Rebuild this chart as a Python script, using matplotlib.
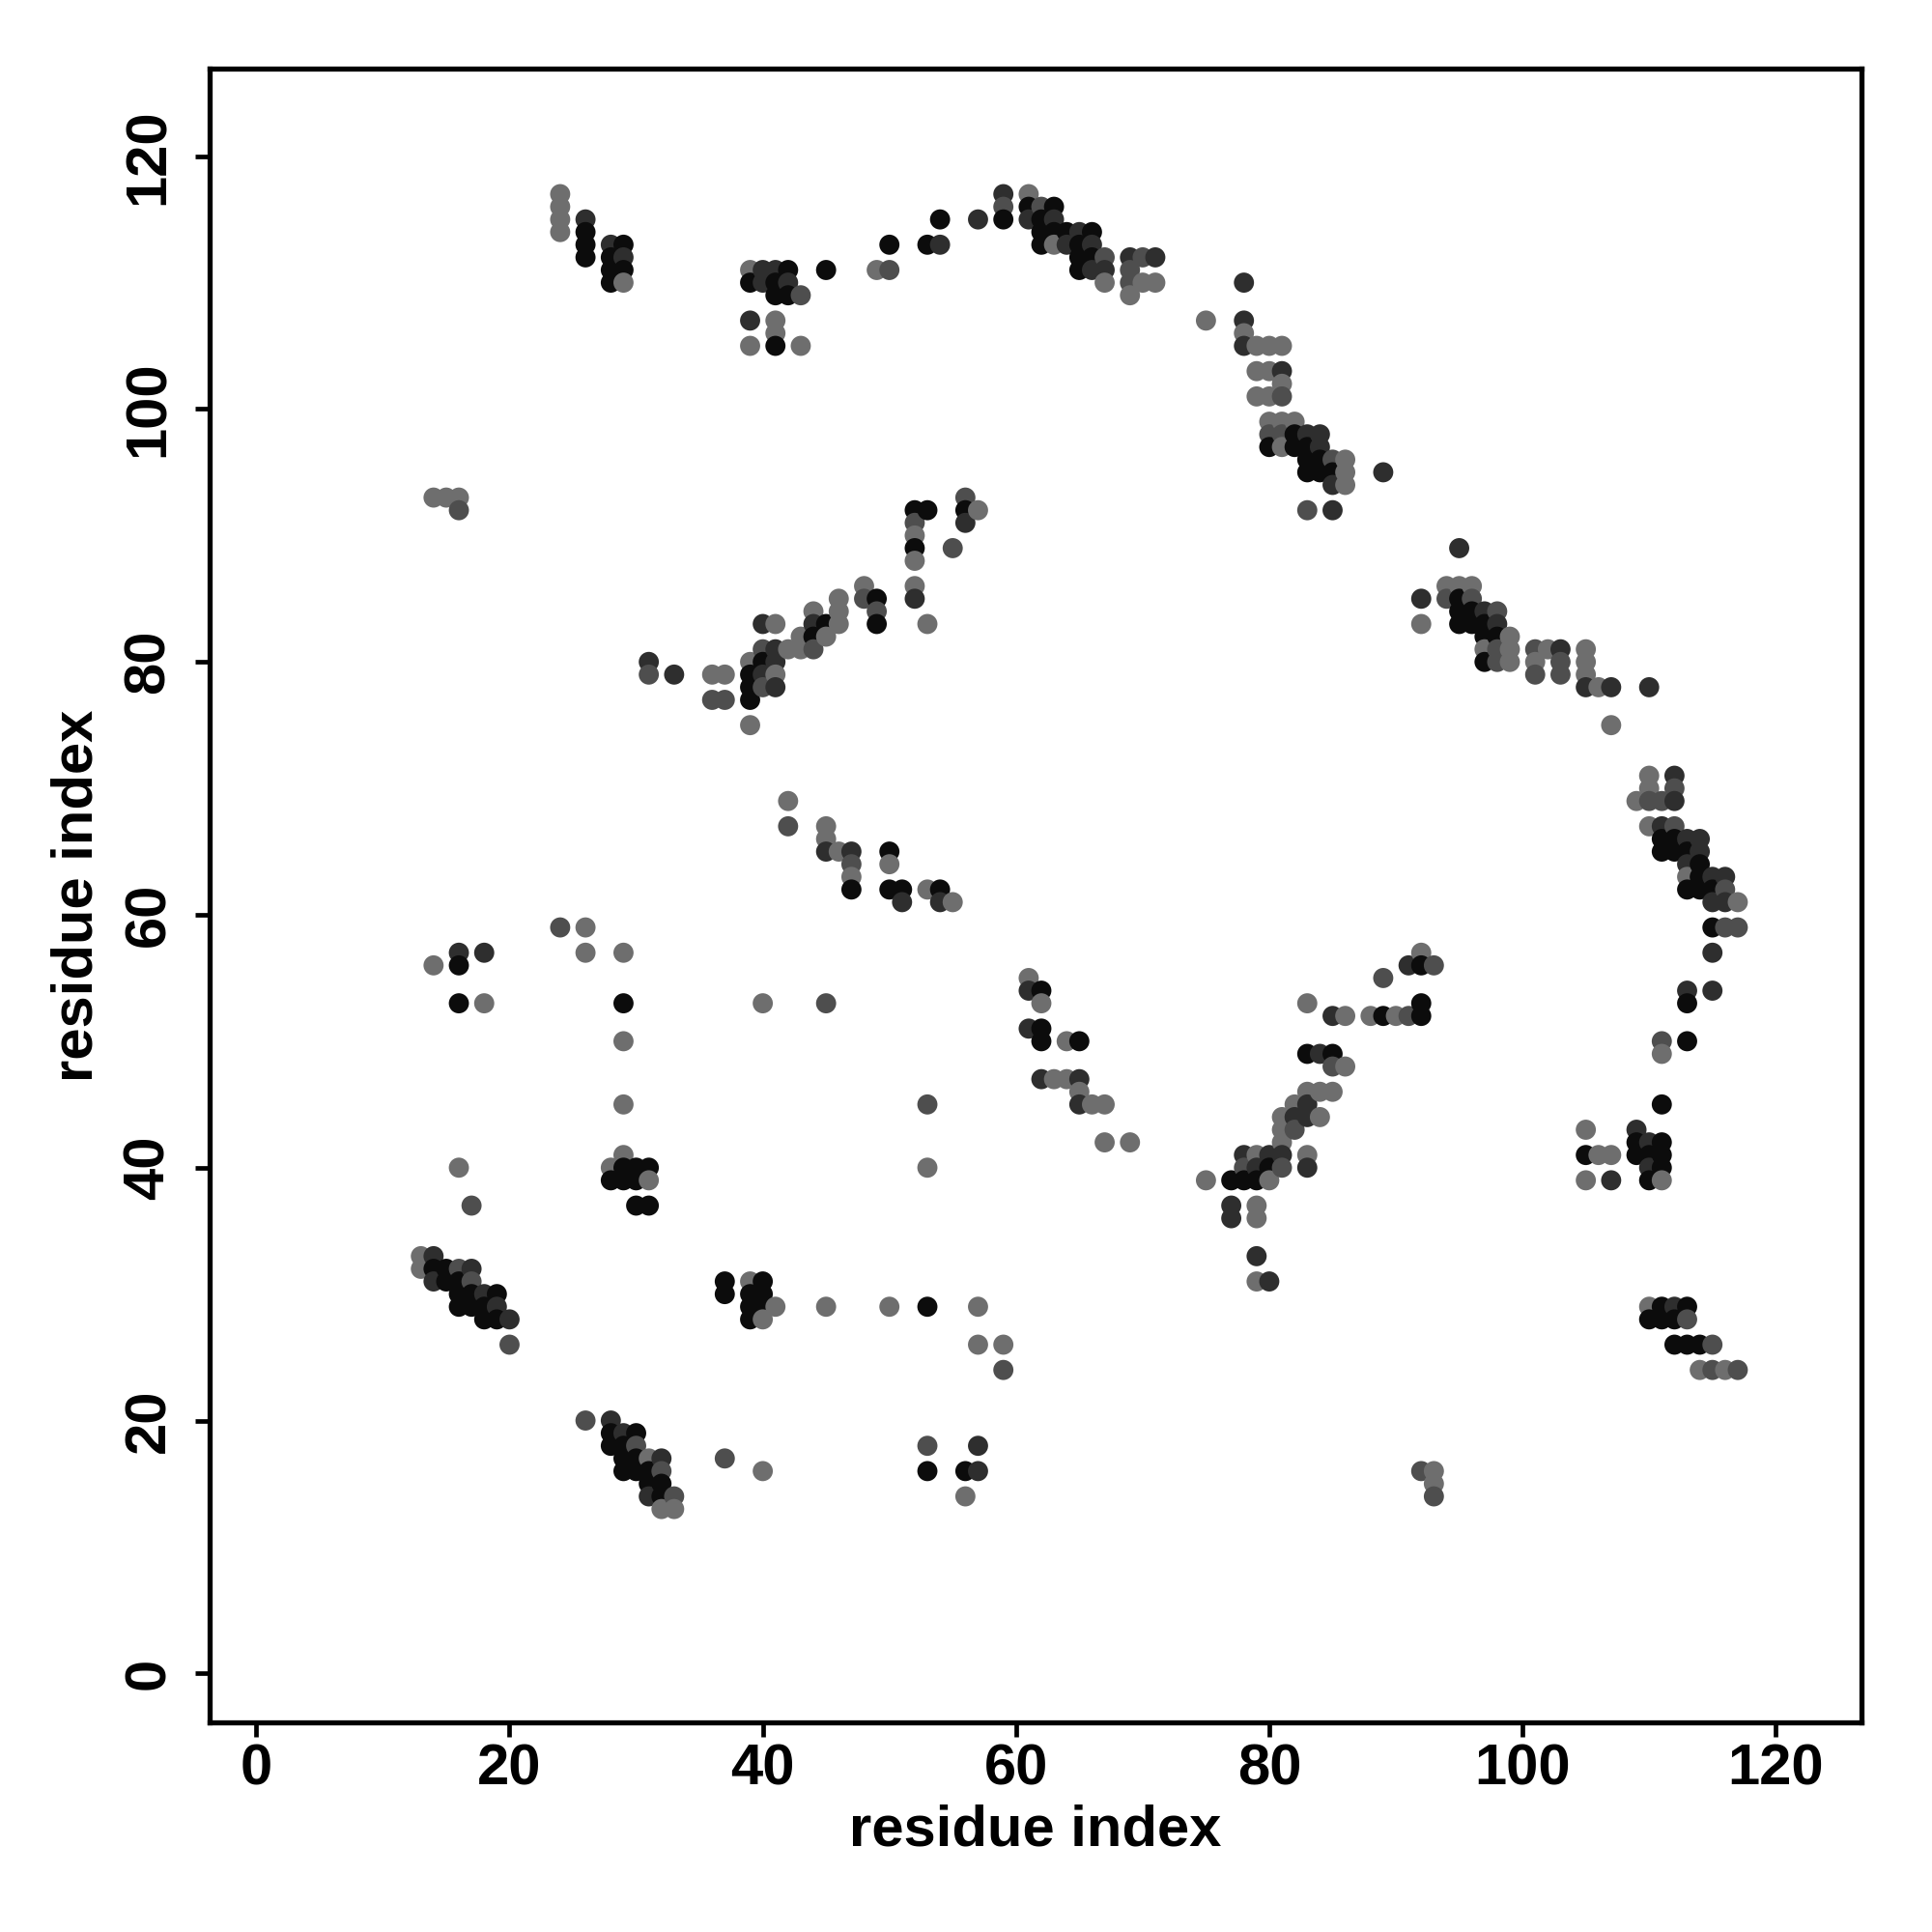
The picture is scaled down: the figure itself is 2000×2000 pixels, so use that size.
import matplotlib
matplotlib.use("Agg")
import matplotlib.pyplot as plt

# Contact map: for every residue index on x, the partner residues (y) and a shade level
# (0 = black, 1 = dark, 2 = dark grey, 3 = grey)
cols = [13, 14, 15, 16, 17, 18, 19, 20, 24, 26, 28, 29, 30, 31, 32, 33, 36, 37, 39, 40,
        41, 42, 43, 44, 45, 46, 47, 48, 49, 50, 51, 52, 53, 54, 55, 56, 57, 59, 61, 62,
        63, 64, 65, 66, 67, 69, 70, 71, 75, 77, 78, 79, 80, 81, 82, 83, 84, 85, 86, 88,
        89, 90, 91, 92, 93, 94, 95, 96, 97, 98, 99, 101, 102, 103, 105, 106, 107, 109, 110, 111,
        112, 113, 114, 115, 116, 117]

rows_by_col = [
    [33, 32],
    [93, 56, 33, 32, 31],
    [93, 32, 31],
    [93, 92, 57, 56, 53, 40, 32, 31, 30, 29],
    [37, 32, 31, 30, 29],
    [57, 53, 30, 29, 28],
    [30, 29, 28],
    [28, 26],
    [117, 116, 115, 114, 59],
    [115, 114, 113, 112, 59, 57, 20],
    [113, 112, 111, 110, 40, 39, 20, 19, 18],
    [113, 112, 111, 110, 57, 53, 50, 45, 41, 40, 39, 19, 18, 17, 16],
    [40, 39, 37, 19, 18, 17, 16],
    [80, 79, 40, 39, 37, 17, 16, 15, 14],
    [17, 16, 15, 14, 13],
    [79, 14, 13],
    [79, 77],
    [79, 77, 31, 30, 17],
    [111, 110, 107, 105, 80, 79, 78, 77, 75, 31, 30, 29, 28],
    [111, 110, 83, 81, 80, 79, 78, 53, 31, 30, 29, 28, 16],
    [111, 110, 109, 107, 106, 105, 83, 81, 80, 79, 78, 29],
    [111, 110, 109, 81, 69, 67],
    [109, 105, 82, 81],
    [84, 83, 82, 81],
    [111, 83, 82, 67, 66, 65, 53, 29],
    [85, 84, 83, 65],
    [65, 64, 63, 62],
    [86, 85],
    [111, 85, 84, 83],
    [113, 111, 65, 64, 62, 29],
    [62, 61],
    [92, 91, 90, 89, 88, 86, 85],
    [113, 92, 83, 62, 45, 40, 29, 18, 16],
    [115, 113, 62, 61],
    [89, 61],
    [93, 92, 91, 16, 14],
    [115, 92, 29, 26, 18, 16],
    [117, 116, 115, 26, 24],
    [117, 116, 115, 55, 54, 51],
    [116, 115, 114, 113, 54, 53, 51, 50, 47],
    [116, 115, 114, 113, 47],
    [114, 113, 50, 47],
    [114, 113, 112, 111, 50, 47, 46, 45],
    [114, 113, 112, 111, 45],
    [112, 111, 110, 45, 42],
    [112, 111, 110, 109, 42],
    [112, 110],
    [112, 110],
    [107, 39],
    [39, 37, 36],
    [110, 107, 106, 105, 41, 40, 39],
    [105, 103, 101, 41, 40, 39, 37, 36, 33, 31],
    [105, 103, 101, 99, 98, 97, 41, 40, 39, 31],
    [105, 103, 102, 101, 99, 98, 97, 44, 43, 42, 41, 40],
    [99, 98, 97, 45, 44, 43],
    [98, 97, 96, 95, 92, 53, 49, 46, 45, 44, 41, 40],
    [98, 97, 96, 95, 49, 46, 44],
    [96, 95, 94, 92, 52, 49, 48, 46],
    [96, 95, 94, 52, 48],
    [52],
    [95, 55, 52],
    [52],
    [56, 52],
    [85, 83, 57, 56, 53, 52, 16],
    [56, 16, 15, 14],
    [86, 85],
    [89, 86, 85, 84, 83],
    [86, 85, 84, 83],
    [84, 83, 82, 81, 80],
    [84, 83, 82, 81, 80],
    [82, 81, 80],
    [81, 80, 79],
    [81],
    [81, 80, 79],
    [81, 80, 79, 78, 43, 41, 39],
    [78, 41],
    [78, 75, 41, 39],
    [69, 43, 42, 41],
    [78, 71, 70, 69, 67, 42, 41, 40, 39, 29, 28],
    [69, 67, 66, 65, 50, 49, 45, 42, 41, 40, 39, 29, 28],
    [71, 70, 69, 67, 66, 65, 29, 28, 26],
    [66, 65, 64, 63, 62, 54, 53, 50, 29, 28, 26],
    [66, 65, 64, 63, 62, 26, 24],
    [63, 62, 61, 59, 57, 54, 26, 24],
    [63, 62, 61, 59, 24],
    [61, 59, 24],
]

shade_by_col = [
    [3, 3],
    [3, 3, 1, 0, 1],
    [3, 0, 0],
    [3, 2, 1, 0, 0, 3, 2, 0, 0, 0],
    [2, 1, 2, 0, 0],
    [1, 3, 1, 0, 0],
    [0, 1, 0],
    [1, 2],
    [3, 3, 3, 3, 2],
    [1, 0, 0, 0, 3, 3, 2],
    [1, 0, 0, 0, 3, 0, 1, 0, 0],
    [0, 1, 0, 3, 3, 0, 3, 3, 3, 0, 0, 1, 0, 0, 0],
    [0, 0, 0, 0, 2, 0, 0],
    [1, 2, 0, 3, 0, 3, 0, 0, 1],
    [1, 2, 0, 0, 3],
    [1, 2, 3],
    [3, 2],
    [3, 2, 0, 0, 2],
    [3, 0, 1, 3, 3, 0, 0, 0, 3, 3, 0, 0, 0],
    [1, 1, 1, 2, 0, 1, 2, 3, 0, 0, 0, 3, 3],
    [1, 0, 0, 3, 3, 0, 3, 1, 1, 3, 1, 3],
    [0, 1, 0, 3, 3, 2],
    [2, 3, 3, 3],
    [3, 1, 0, 2],
    [0, 0, 3, 3, 3, 1, 2, 3],
    [3, 3, 3, 3],
    [1, 2, 3, 0],
    [3, 2],
    [3, 0, 2, 0],
    [0, 2, 0, 3, 0, 3],
    [0, 1],
    [0, 2, 3, 0, 3, 3, 1],
    [0, 0, 3, 3, 2, 3, 0, 2, 0],
    [0, 1, 0, 1],
    [2, 3],
    [2, 0, 1, 0, 3],
    [1, 3, 3, 3, 1, 1],
    [1, 2, 0, 3, 2],
    [3, 0, 1, 3, 1, 1],
    [2, 0, 0, 0, 0, 3, 0, 0, 1],
    [0, 1, 0, 3, 3],
    [0, 1, 3, 3],
    [1, 0, 0, 0, 0, 1, 3, 1],
    [0, 1, 0, 1, 3],
    [2, 1, 3, 3, 3],
    [1, 2, 2, 3, 3],
    [2, 3],
    [1, 3],
    [3, 3],
    [0, 1, 1],
    [1, 1, 3, 1, 1, 2, 0],
    [3, 3, 3, 3, 1, 0, 3, 3, 1, 3],
    [3, 3, 3, 3, 2, 0, 1, 0, 3, 1],
    [3, 1, 3, 2, 3, 2, 3, 3, 3, 3, 1, 2],
    [3, 0, 0, 3, 1, 2],
    [1, 0, 0, 0, 2, 3, 0, 3, 1, 1, 3, 1],
    [1, 1, 0, 0, 1, 3, 3],
    [2, 0, 1, 1, 1, 0, 2, 3],
    [3, 3, 3, 3, 3],
    [3],
    [1, 2, 0],
    [3],
    [1, 2],
    [1, 3, 3, 0, 0, 0, 2],
    [2, 3, 3, 2],
    [3, 2],
    [1, 3, 0, 0, 0],
    [3, 2, 0, 0],
    [1, 0, 0, 3, 0],
    [2, 1, 0, 2, 2],
    [3, 3, 3],
    [2, 3, 2],
    [3],
    [1, 2, 2],
    [3, 3, 3, 1, 3, 0, 3],
    [3, 3],
    [1, 3, 3, 1],
    [3, 1, 0, 0],
    [1, 3, 3, 2, 3, 1, 0, 1, 0, 3, 0],
    [2, 1, 0, 0, 2, 3, 0, 0, 0, 0, 3, 0, 0],
    [1, 2, 1, 2, 0, 0, 1, 0, 0],
    [1, 0, 1, 3, 0, 1, 0, 0, 0, 2, 0],
    [1, 1, 0, 0, 0, 0, 3],
    [1, 0, 1, 0, 1, 1, 2, 2],
    [1, 2, 1, 2, 3],
    [3, 2, 2],
]

shade_colors = ["#0c0c0c", "#2e2e2e", "#4e4e4e", "#6e6e6e"]
tick_values = [0, 20, 40, 60, 80, 100, 120]

xs, ys, cs = [], [], []
for c, rows, shades in zip(cols, rows_by_col, shade_by_col):
    for r, s in zip(rows, shades):
        xs.append(c)
        ys.append(r)
        cs.append(shade_colors[s])

plt.rcParams["font.family"] = ["Liberation Sans", "DejaVu Sans"]
plt.rcParams["font.weight"] = "bold"

fig = plt.figure(figsize=(20, 20), dpi=100)
ax = fig.add_axes([0.1084, 0.1084, 0.8553, 0.8559])
ax.scatter(xs, ys, s=225, c=cs, edgecolors="none", zorder=3)

ax.set_xlim(-3.7, 126.8)
ax.set_ylim(-3.89, 126.9)
ax.set_xticks(tick_values)
ax.set_yticks(tick_values)
ax.set_xticklabels([str(v) for v in tick_values], fontsize=43, fontweight="bold")
ax.set_yticklabels([str(v) for v in tick_values], fontsize=43, fontweight="bold",
                   rotation=90, va="center")
for sp in ax.spines.values():
    sp.set_linewidth(3.8)
ax.tick_params(axis="both", direction="out", length=11, width=3.4)
ax.tick_params(axis="x", pad=4)
ax.tick_params(axis="y", pad=14)

ax.set_xlabel("residue index", fontsize=43, fontweight="bold", labelpad=6)
ax.set_ylabel("residue index", fontsize=43, fontweight="bold", labelpad=14)

fig.savefig("out.png", dpi=100)
